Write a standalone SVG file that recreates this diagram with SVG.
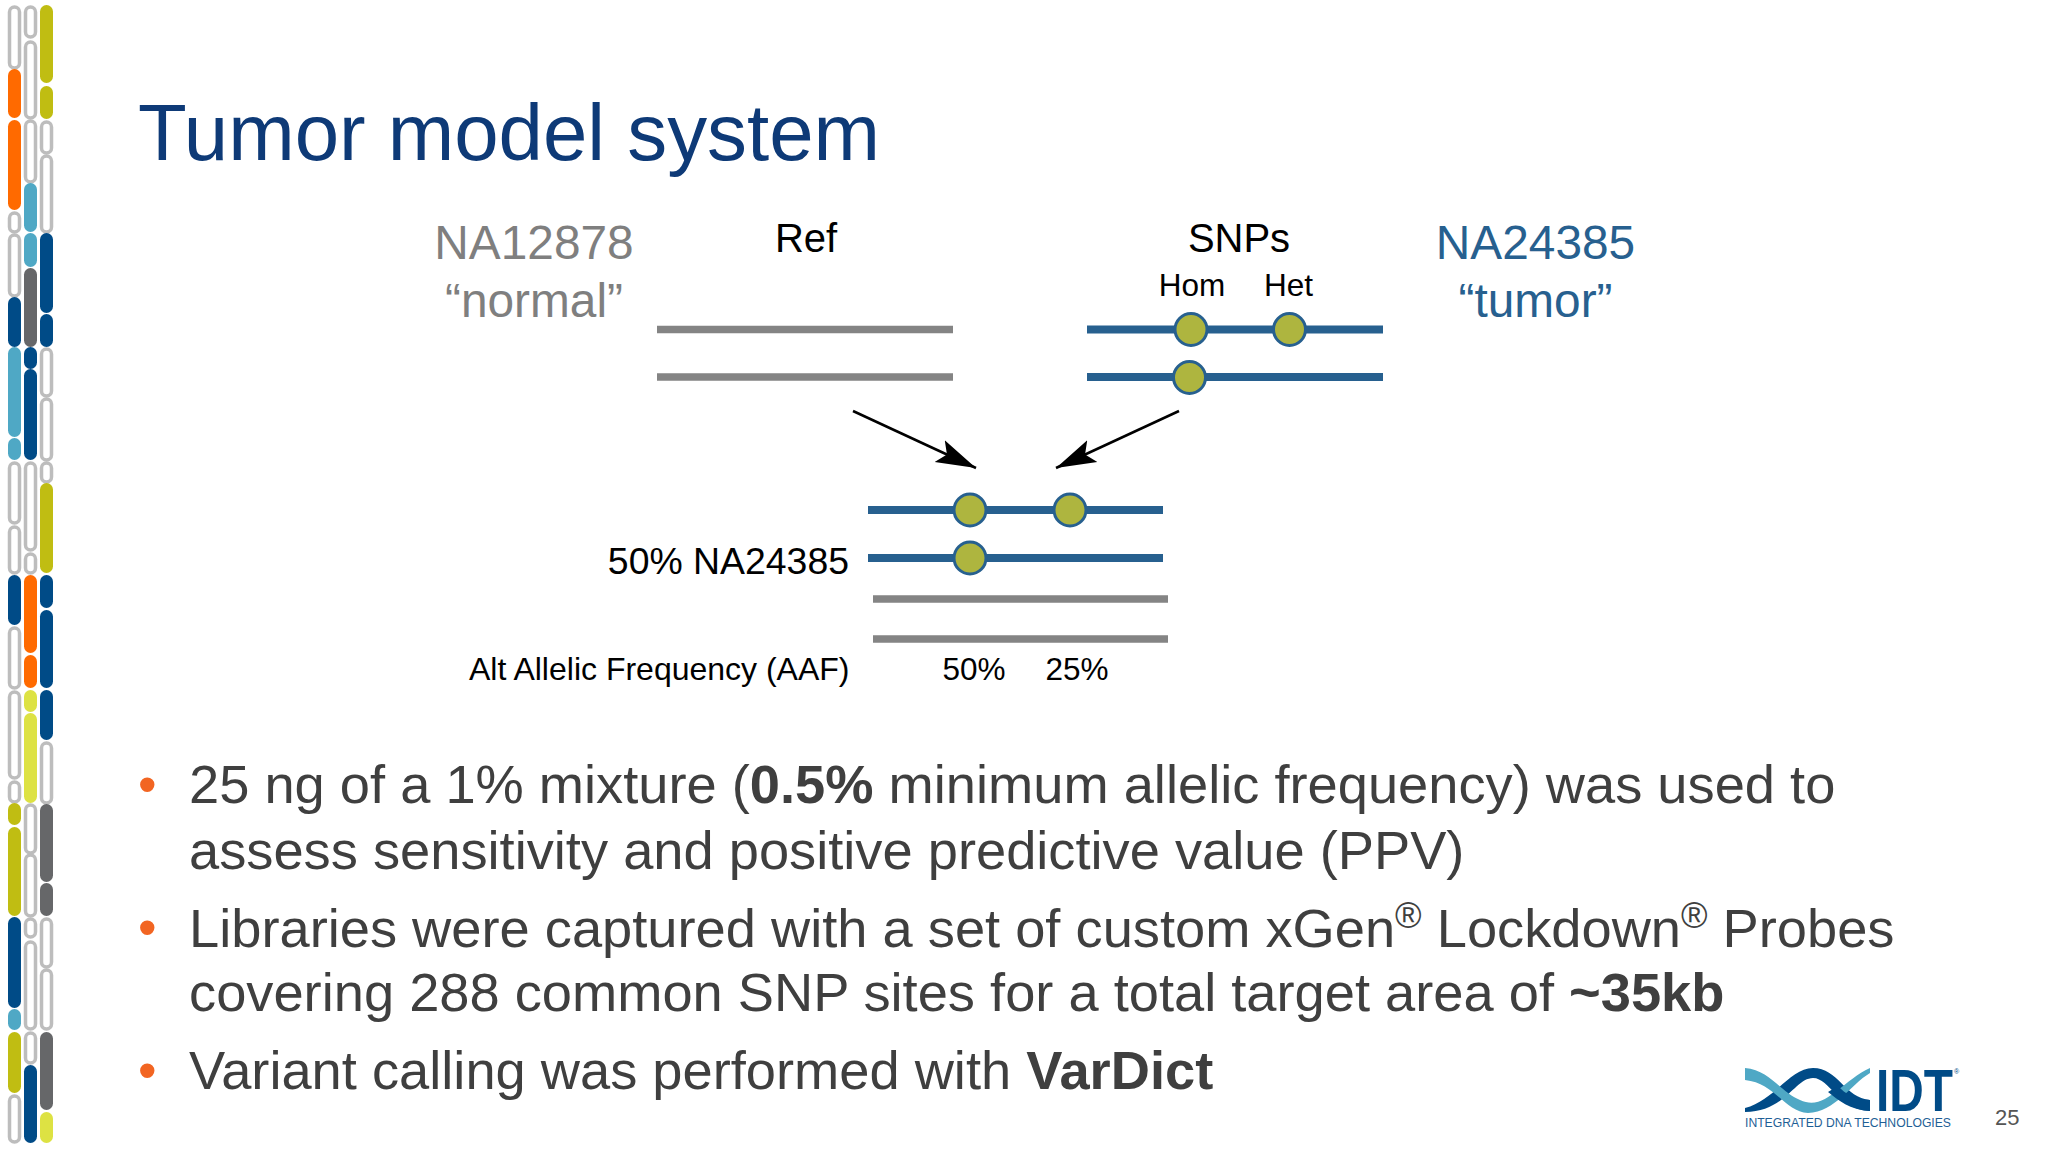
<svg xmlns="http://www.w3.org/2000/svg" width="2048" height="1152" viewBox="0 0 2048 1152">
<style>
text{font-family:"Liberation Sans",Arial,sans-serif}
.w{fill:#fff;stroke:#bdbdbd;stroke-width:3.5}
.o{fill:#ff6a00}.t{fill:#4fa8c5}.n{fill:#004b87}.g{fill:#666769}.l{fill:#c0bd12}.y{fill:#dde243}
.gl{stroke:#848484;stroke-width:7.5;fill:none}
.bl{stroke:#27608f;stroke-width:8;fill:none}
.snp{fill:#aeb53f;stroke:#27608f;stroke-width:3}
.d{font-size:40px;fill:#000}
.s{font-size:31.500px;fill:#000}
.big{font-size:47.800px}
.body{font-size:54.250px;fill:#3f3f3f}
.bu{font-size:53px;fill:#f26522}
.sup{font-size:36px}
</style>
<defs><marker id="ah" markerUnits="userSpaceOnUse" markerWidth="44" markerHeight="30" refX="40" refY="15" orient="auto"><path d="M0 3L40 15L0 27L8 15Z" fill="#000"/></marker></defs>
<rect width="2048" height="1152" fill="#fff"/>
<g id="chromosomes">
<rect class="w" x="9.500" y="7" width="10" height="61" rx="5"/><rect class="o" x="8" y="69" width="13" height="49" rx="6.500"/><rect class="o" x="8" y="120" width="13" height="90" rx="6.500"/><rect class="w" x="9.500" y="213" width="10" height="19" rx="5"/><rect class="w" x="9.500" y="235" width="10" height="61" rx="5"/><rect class="n" x="8" y="297" width="13" height="50" rx="6.500"/><rect class="t" x="8" y="347" width="13" height="90" rx="6.500"/><rect class="t" x="8" y="438" width="13" height="22" rx="6.500"/><rect class="w" x="9.500" y="463" width="10" height="60" rx="5"/><rect class="w" x="9.500" y="527" width="10" height="46" rx="5"/><rect class="n" x="8" y="575" width="13" height="50" rx="6.500"/><rect class="w" x="9.500" y="628" width="10" height="60" rx="5"/><rect class="w" x="9.500" y="692" width="10" height="86" rx="5"/><rect class="w" x="9.500" y="782" width="10" height="20" rx="5"/><rect class="l" x="8" y="803" width="13" height="22" rx="6.500"/><rect class="l" x="8" y="827" width="13" height="89" rx="6.500"/><rect class="n" x="8" y="917" width="13" height="91" rx="6.500"/><rect class="t" x="8" y="1009" width="13" height="21" rx="6.500"/><rect class="l" x="8" y="1032" width="13" height="61" rx="6.500"/><rect class="w" x="9.500" y="1096" width="10" height="46" rx="5"/>
<rect class="w" x="25.500" y="7" width="10" height="30" rx="5"/><rect class="w" x="25.500" y="42" width="10" height="76" rx="5"/><rect class="w" x="25.500" y="121" width="10" height="61" rx="5"/><rect class="t" x="24" y="183" width="13" height="49" rx="6.500"/><rect class="t" x="24" y="233" width="13" height="34" rx="6.500"/><rect class="g" x="24" y="268" width="13" height="79" rx="6.500"/><rect class="n" x="24" y="347" width="13" height="22" rx="6.500"/><rect class="n" x="24" y="369" width="13" height="91" rx="6.500"/><rect class="w" x="25.500" y="463" width="10" height="87" rx="5"/><rect class="w" x="25.500" y="554" width="10" height="19" rx="5"/><rect class="o" x="24" y="575" width="13" height="78" rx="6.500"/><rect class="o" x="24" y="655" width="13" height="33" rx="6.500"/><rect class="y" x="24" y="690" width="13" height="22" rx="6.500"/><rect class="y" x="24" y="713" width="13" height="90" rx="6.500"/><rect class="w" x="25.500" y="805" width="10" height="48" rx="5"/><rect class="w" x="25.500" y="855" width="10" height="61" rx="5"/><rect class="w" x="25.500" y="919" width="10" height="18" rx="5"/><rect class="w" x="25.500" y="942" width="10" height="87" rx="5"/><rect class="w" x="25.500" y="1033" width="10" height="30" rx="5"/><rect class="n" x="24" y="1065" width="13" height="78" rx="6.500"/>
<rect class="l" x="40" y="5" width="13" height="78" rx="6.500"/><rect class="l" x="40" y="86" width="13" height="33" rx="6.500"/><rect class="w" x="41.500" y="122" width="10" height="31" rx="5"/><rect class="w" x="41.500" y="156" width="10" height="76" rx="5"/><rect class="n" x="40" y="233" width="13" height="80" rx="6.500"/><rect class="n" x="40" y="314" width="13" height="33" rx="6.500"/><rect class="w" x="41.500" y="349" width="10" height="47" rx="5"/><rect class="w" x="41.500" y="399" width="10" height="61" rx="5"/><rect class="w" x="41.500" y="463" width="10" height="19" rx="5"/><rect class="l" x="40" y="483" width="13" height="90" rx="6.500"/><rect class="n" x="40" y="575" width="13" height="33" rx="6.500"/><rect class="n" x="40" y="610" width="13" height="78" rx="6.500"/><rect class="n" x="40" y="690" width="13" height="50" rx="6.500"/><rect class="w" x="41.500" y="743" width="10" height="60" rx="5"/><rect class="g" x="40" y="804" width="13" height="78" rx="6.500"/><rect class="g" x="40" y="883" width="13" height="33" rx="6.500"/><rect class="w" x="41.500" y="919" width="10" height="48" rx="5"/><rect class="w" x="41.500" y="970" width="10" height="59" rx="5"/><rect class="g" x="40" y="1032" width="13" height="78" rx="6.500"/><rect class="y" x="40" y="1112" width="13" height="31" rx="6.500"/>
</g>
<text x="138" y="160" font-size="79.800" fill="#0e3a77">Tumor model system</text>
<g id="labels">
<text class="big" x="534" y="259" text-anchor="middle" fill="#7f7f7f">NA12878</text>
<text class="big" x="534" y="317" text-anchor="middle" fill="#7f7f7f">“normal”</text>
<text class="d" x="806" y="252" text-anchor="middle">Ref</text>
<text class="d" x="1239" y="252" text-anchor="middle">SNPs</text>
<text class="s" x="1192" y="296" text-anchor="middle">Hom</text>
<text class="s" x="1288.500" y="296" text-anchor="middle">Het</text>
<text class="big" x="1535.500" y="259" text-anchor="middle" fill="#27608f">NA24385</text>
<text class="big" x="1535.500" y="317" text-anchor="middle" fill="#27608f">“tumor”</text>
<text class="d" x="849" y="574" text-anchor="end" style="font-size:37.400px">50% NA24385</text>
<text class="s" x="849.500" y="680" text-anchor="end" style="font-size:32px">Alt Allelic Frequency (AAF)</text>
<text class="s" x="974" y="680" text-anchor="middle">50%</text>
<text class="s" x="1077" y="680" text-anchor="middle">25%</text>
</g>
<g id="connectors">
<path d="M657 329.500H953M657 377H953M873 599H1168M873 639H1168" class="gl"/>
<path d="M1087 329.500H1383M1087 377H1383M868 510H1163M868 558H1163" class="bl"/>
<path d="M853 411L976 468" stroke="#000" stroke-width="2.500" fill="none" marker-end="url(#ah)"/>
<path d="M1179 411L1056 468" stroke="#000" stroke-width="2.500" fill="none" marker-end="url(#ah)"/>
</g>
<g id="snps">
<circle class="snp" cx="1191" cy="329.500" r="16"/><circle class="snp" cx="1289.500" cy="329.500" r="16"/><circle class="snp" cx="1189.500" cy="377.500" r="16"/>
<circle class="snp" cx="970" cy="510" r="16"/><circle class="snp" cx="1070" cy="510" r="16"/><circle class="snp" cx="970" cy="558" r="16"/>
</g>
<g id="bullets">
<text class="bu" x="138" y="803">•</text><text class="bu" x="138" y="946">•</text><text class="bu" x="138" y="1089">•</text>
<text class="body" x="189" y="803">25 ng of a 1% mixture (<tspan font-weight="700">0.5%</tspan> minimum allelic frequency) was used to</text>
<text class="body" x="189" y="869">assess sensitivity and positive predictive value (PPV)</text>
<text class="body" x="189" y="947">Libraries were captured with a set of custom xGen<tspan class="sup" dy="-19">®</tspan><tspan dy="19"> Lockdown</tspan><tspan class="sup" dy="-19">®</tspan><tspan dy="19"> Probes</tspan></text>
<text class="body" x="189" y="1011">covering 288 common SNP sites for a total target area of <tspan font-weight="700">~35kb</tspan></text>
<text class="body" x="189" y="1089">Variant calling was performed with <tspan font-weight="700">VarDict</tspan></text>
</g>
<g id="logo">
<path d="M1745 1108C1775 1100 1790 1068 1813 1068C1838 1068 1845 1098 1870 1100L1870 1111C1838 1110 1830 1078 1813 1078C1795 1078 1785 1112 1745 1112Z" fill="#004b87"/>
<path d="M1745 1068C1770 1070 1780 1092 1800 1100C1825 1112 1840 1082 1870 1068L1870 1073C1850 1085 1835 1112 1808 1113C1785 1112 1775 1083 1745 1080Z" fill="#4fa8c5"/>
<path d="M1838 1086C1845 1094 1855 1099 1870 1100L1870 1111C1850 1110 1838 1100 1828 1092Z" fill="#004b87"/>
<text x="1876" y="1111" font-size="60" font-weight="700" fill="#004b87" textLength="77" lengthAdjust="spacingAndGlyphs">IDT</text>
<text x="1954" y="1074" font-size="7" fill="#004b87">®</text>
<text x="1745" y="1127" font-size="12.500" fill="#1f5f96" textLength="206" lengthAdjust="spacingAndGlyphs">INTEGRATED DNA TECHNOLOGIES</text>
</g>
<text id="page" x="1995" y="1125" font-size="22" fill="#555">25</text>
</svg>
